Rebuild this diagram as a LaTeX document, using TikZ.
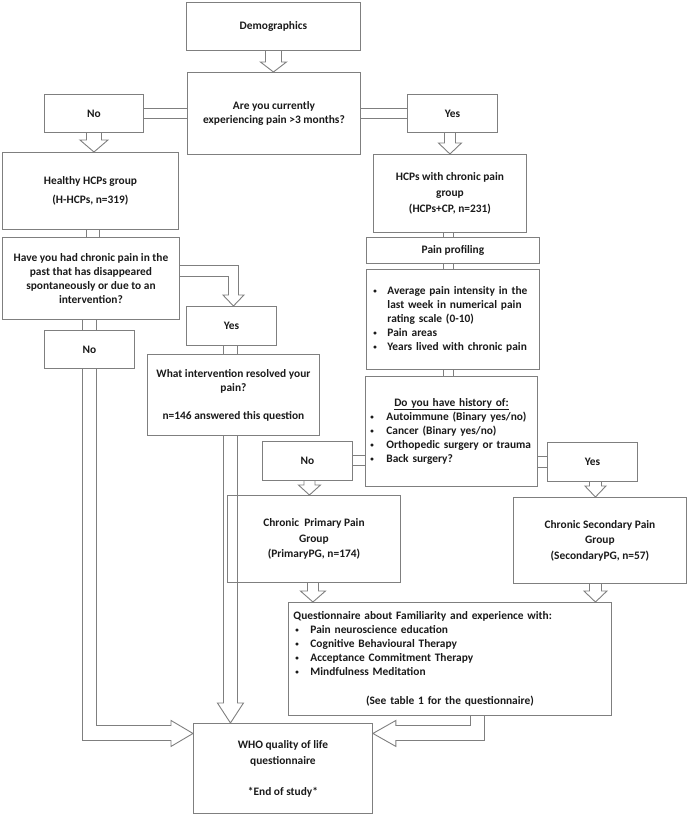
\documentclass[tikz,border=0pt]{standalone}
\usepackage{fontspec}
\setmainfont{Carlito}
\usepackage{xcolor}
\usepackage{tikz}
\usetikzlibrary{calc}
\definecolor{linegrey}{HTML}{7F7F7F}
\definecolor{textdark}{HTML}{1A1A1A}
\setlength{\parindent}{0pt}

\begin{document}
\begin{tikzpicture}[x=1pt,y=-1pt]
    \newcommand{\blt}[1][13pt]{\makebox[#1][l]{\hspace{1pt}\raisebox{0.25ex}{\fontsize{7}{7}\selectfont\textbullet}}}
    \tikzstyle{box}=[
      draw=linegrey,
      line width=0.9pt,
      anchor=north west,
      align=center,
      inner sep=2pt,
      text=textdark,
      font=\bfseries\fontsize{11.4}{14}\selectfont,
    ]
    \tikzstyle{link}   = [draw=linegrey,line width=0.9pt]
    \tikzstyle{hollow} = [draw=linegrey,line width=0.9pt,line join=miter]
    % from, to, shaft half width, head half width, head length
    \newcommand{\downblock}[5]{%
      \draw[hollow] let \p1=(#1), \p2=(#2) in
        (\x1-#3,\y1) -- (\x1-#3,\y2+#5) -- (\x1-#4,\y2+#5) -- (\x1,\y2)
        -- (\x1+#4,\y2+#5) -- (\x1+#3,\y2+#5) -- (\x1+#3,\y1);}
    \newcommand{\pairdown}[4]{%
      \draw[link] let \p1=(#1), \p2=(#2) in
        (\x1+#3,\y1) -- (\x1+#3,\y2) (\x1+#4,\y1) -- (\x1+#4,\y2);}
    \newcommand{\pairacross}[4]{%
      \draw[link] let \p1=(#1), \p2=(#2) in
        (\x1,\y1+#3) -- (\x2,\y1+#3) (\x1,\y1+#4) -- (\x2,\y1+#4);}

    \useasboundingbox (0,0) rectangle (688,815);

    \node[box,minimum width=174pt,minimum height=48pt] (demo) at (186,2)
      {Demographics};
    \node[box,minimum width=173pt,minimum height=82pt] (quest) at (187,72)
      {Are you currently\\experiencing pain >3 months?};
    \node[box,minimum width=99pt,minimum height=38pt] (no1) at (44,94) {No};
    \node[box,minimum width=90pt,minimum height=38pt] (yes1) at (407,94) {Yes};

    % left branch
    \node[box,minimum width=176pt,minimum height=77pt] (healthy) at (2,152)
      {Healthy HCPs group\\[4.3pt](H-HCPs, n=319)};
    \node[box,minimum width=177pt,minimum height=82pt] (have) at (2,237)
      {Have you had chronic pain in the\\past that has disappeared\\spontaneously or due to an\\intervention?};
    \node[box,minimum width=90pt,minimum height=39pt] (yes2) at (186,306) {Yes};
    \node[box,minimum width=90pt,minimum height=38pt] (no2) at (44,330) {No};
    \node[box,minimum width=172pt,minimum height=81pt] (what) at (147,354)
      {What intervention resolved your\\[0.5pt]pain?\\[13.5pt]n=146 answered this question};

    % right branch
    \node[box,minimum width=153pt,minimum height=78pt] (hcp) at (373,154)
      {HCPs with chronic pain\\[2pt]group\\[2.5pt](HCPs+CP, n=231)};
    \node[box,minimum width=173pt,minimum height=26pt] (pp) at (366,237)
      {Pain profiling};
    \node[box,minimum width=173pt,minimum height=100pt,text width=161pt,
          inner xsep=6pt,align=left] (plist) at (366,269)
      {\blt[15pt]Average pain intensity in the\\
       \hspace*{15pt}last week in numerical pain\\
       \hspace*{15pt}rating scale (0-10)\\
       \blt[15pt]Pain areas\\
       \blt[15pt]Years lived with chronic pain};
    \node[box,minimum width=172pt,minimum height=110pt,text width=164pt,
          inner xsep=4pt,align=left] (hist) at (365,376)
      {\makebox[\hsize][c]{\underline{Do you have history of:}}\\
       \blt[17pt]Autoimmune (Binary yes/no)\\
       \blt[17pt]Cancer (Binary yes/no)\\
       \blt[17pt]Orthopedic surgery or trauma\\
       \blt[17pt]Back surgery?};
    \node[box,minimum width=90pt,minimum height=39pt] (no3) at (262,441) {No};
    \node[box,minimum width=90pt,minimum height=39pt] (yes3) at (547,442) {Yes};
    \node[box,minimum width=173pt,minimum height=87pt] (prim) at (227,495)
      {Chronic~ Primary Pain\\[1.5pt]Group\\[1.5pt](PrimaryPG, n=174)};
    \node[box,minimum width=173pt,minimum height=86pt] (sec) at (513,497)
      {Chronic Secondary Pain\\[1.5pt]Group\\[1.5pt](SecondaryPG, n=57)};
    \node[box,minimum width=323pt,minimum height=113pt,text width=313pt,
          inner xsep=5pt,align=left] (qn) at (288,602)
      {Questionnaire about Familiarity and experience with:\\
       \hspace*{1pt}\blt[16pt]Pain neuroscience education\\
       \hspace*{1pt}\blt[16pt]Cognitive Behavioural Therapy\\
       \hspace*{1pt}\blt[16pt]Acceptance Commitment Therapy\\
       \hspace*{1pt}\blt[16pt]Mindfulness Meditation\\[15pt]
       \makebox[\hsize][c]{(See table 1 for the questionnaire)}};

    \node[box,minimum width=179pt,minimum height=90pt] (who) at (193,723)
      {WHO quality of life\\[2pt]questionnaire\\[17pt]*End of study*};

    % demographics -> question
    \downblock{demo.south}{quest.north}{8}{13}{10}

    % question <-> no / yes
    \pairacross{no1.east}{quest.west}{5}{-5}
    \pairacross{quest.east}{yes1.west}{5}{-5}

    % no -> healthy, yes -> chronic pain
    \downblock{no1.south}{healthy.north}{7.5}{14}{12}
    \downblock{[xshift=-2.5pt]yes1.south}{hcp.north}{5.5}{11.5}{11}

    % healthy -> past pain question -> no
    \pairdown{healthy.south}{have.north}{-4}{9}
    \pairdown{have.south}{no2.north}{-8.5}{5.5}

    % past pain question -> yes
    \draw[hollow] let \p1=(have.east), \p2=(yes2.north) in
      (\x1,\y1+13) -- (\x2+7,\y1+13) -- (\x2+7,\y2+11) -- (\x2+12.5,\y2+11)
      -- (\x2+2,\y2) -- (\x2-8.5,\y2+11) -- (\x2-3,\y2+11) -- (\x2-3,\y1+2)
      -- (\x1,\y1+2);
    \pairdown{yes2.south}{what.north}{-8}{6}

    % chronic pain -> profiling -> history
    \pairdown{hcp.south}{pp.north}{-6.5}{3.5}
    \pairdown{pp.south}{plist.north}{-9.5}{0.5}
    \pairdown{plist.south}{hist.north}{-9.5}{0.5}

    % history <-> no / yes
    \pairacross{no3.east}{hist.west}{5.5}{-4.5}
    \pairacross{hist.east |- yes3.west}{yes3.west}{5.5}{-5.5}
    \downblock{[xshift=2pt]no3.south}{prim.north}{5.5}{11}{10}
    \downblock{[xshift=3pt]yes3.south}{sec.north}{6}{10.5}{11}

    % groups -> questionnaire
    \downblock{[xshift=-1pt]prim.south}{qn.north}{5.5}{12.5}{11}
    \downblock{[xshift=-4.5pt]sec.south}{qn.north}{6}{11.5}{11}

    % everything -> WHO
    \draw[hollow] let \p1=(no2.south), \p2=(who.west) in
      (\x1-7,\y1) -- (\x1-7,\y2+28) -- (\x2-22,\y2+28) -- (\x2-22,\y2+22)
      -- (\x2,\y2+35) -- (\x2-22,\y2+48) -- (\x2-22,\y2+43) -- (\x1+7,\y2+43)
      -- (\x1+7,\y1);
    \downblock{[xshift=-3pt]what.south}{who.north}{7}{13}{20}
    \draw[hollow] let \p1=(qn.south), \p2=(who.east) in
      (\x1+20.5,\y1) -- (\x1+20.5,\y2+43) -- (\x2+23,\y2+43) -- (\x2+23,\y2+48)
      -- (\x2,\y2+35) -- (\x2+23,\y2+22) -- (\x2+23,\y2+28) -- (\x1+34.5,\y2+28)
      -- (\x1+34.5,\y1);
\end{tikzpicture}
\end{document}
